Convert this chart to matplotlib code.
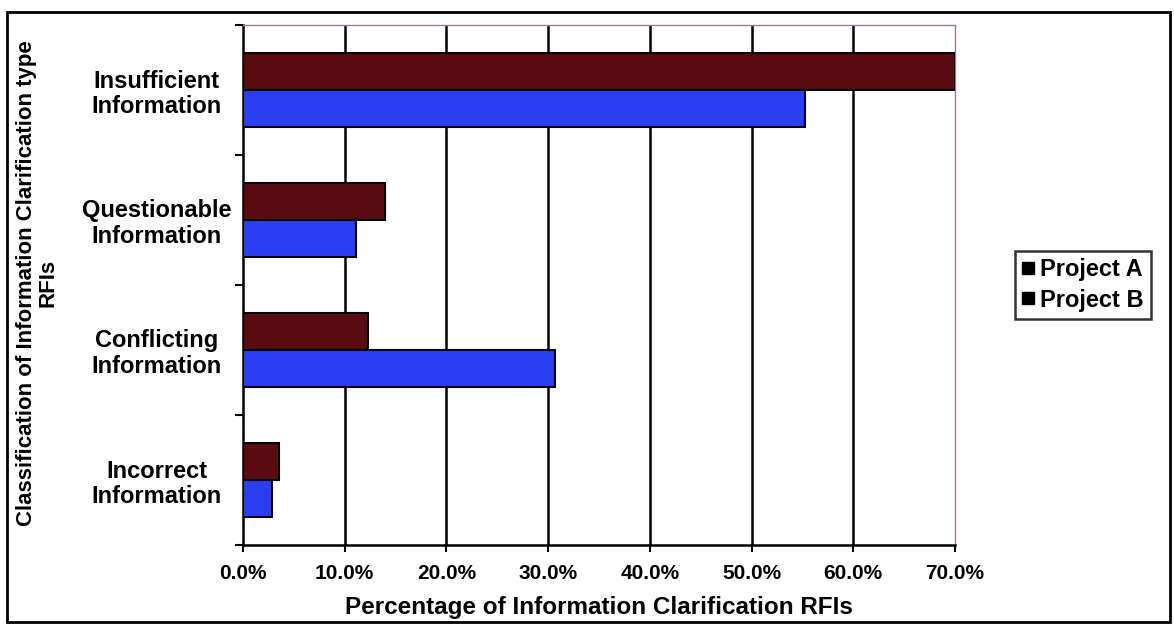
import matplotlib
matplotlib.use("Agg")
import matplotlib.pyplot as plt
from matplotlib.lines import Line2D
from matplotlib.patches import Rectangle
import numpy as np

# Data
categories = ["Insufficient\nInformation", "Questionable\nInformation",
              "Conflicting\nInformation", "Incorrect\nInformation"]
project_a = [70.0, 14.0, 12.3, 3.5]
project_b = [55.3, 11.1, 30.7, 2.9]
series_names = ["Project A", "Project B"]
x_ticks = [0, 10, 20, 30, 40, 50, 60, 70]
x_title = "Percentage of Information Clarification RFIs"
y_title = "Classification of Information Clarification type\nRFIs"

plt.rcParams["font.family"] = ["Liberation Sans", "DejaVu Sans"]

color_a = "#5a0c10"
color_b = "#2c3ef2"

W, H = 1174, 628
fig = plt.figure(figsize=(W / 100, H / 100), dpi=100)
left, right, top, bottom = 243, 955, 25, 545
ax = fig.add_axes([left / W, 1 - bottom / H, (right - left) / W, (bottom - top) / H])

y = np.arange(len(categories))
h = 0.285
ax.barh(y - h / 2, project_a, height=h, color=color_a, edgecolor="black",
        linewidth=1.5, zorder=3)
ax.barh(y + h / 2, project_b, height=h, color=color_b, edgecolor="black",
        linewidth=1.5, zorder=3)

ax.set_xlim(x_ticks[0], x_ticks[-1])
ax.set_ylim(len(categories) - 0.5, -0.5)

# vertical gridlines inside the plot area
ax.vlines(x_ticks[1:-1], -0.5, len(categories) - 0.5, colors="black",
          linewidth=1.8, zorder=1)

ax.set_xticks(x_ticks)
ax.set_xticklabels([f"{v:.1f}%" for v in x_ticks], fontsize=15, fontweight="bold")
ax.tick_params(axis="x", direction="out", length=5, width=1.5, pad=9)

ax.set_yticks(np.arange(len(categories) + 1) - 0.5)
ax.set_yticklabels([])
ax.tick_params(axis="y", which="major", direction="out", length=6, width=1.5)
ax.set_yticks(y, minor=True)
ax.set_yticklabels(categories, minor=True, fontsize=17, fontweight="bold",
                   ha="center", linespacing=1.15)
ax.tick_params(axis="y", which="minor", length=0, pad=62)

for side in ("left", "bottom"):
    ax.spines[side].set_linewidth(1.8)
    ax.spines[side].set_color("black")
for side in ("top", "right"):
    ax.spines[side].set_linewidth(1.0)
    ax.spines[side].set_color("#9a7a9a")

ax.set_xlabel(x_title, fontsize=17.5, fontweight="bold", labelpad=9)

fig.text(37 / W, 1 - 283 / H, y_title, rotation=90, ha="center", va="center",
         fontsize=16, fontweight="bold", linespacing=1.05)

handles = [Line2D([], [], linestyle="none", marker="s", markersize=8,
                  markerfacecolor="black", markeredgecolor="black")
           for _ in series_names]
leg = fig.legend(handles, series_names, loc="center",
                 bbox_to_anchor=(1083 / W, 1 - 285 / H),
                 prop={"weight": "bold", "size": 17}, frameon=True,
                 fancybox=False, handlelength=0.5, handletextpad=0.25,
                 borderpad=0.3, labelspacing=0.3, borderaxespad=0)
leg.get_frame().set_edgecolor("black")
leg.get_frame().set_linewidth(1.8)

fig.patches.append(Rectangle((7 / W, 1 - 622 / H), (1170 - 7) / W, (622 - 12) / H,
                             transform=fig.transFigure, fill=False,
                             edgecolor="black", linewidth=2))

fig.savefig("out.png", dpi=100)
